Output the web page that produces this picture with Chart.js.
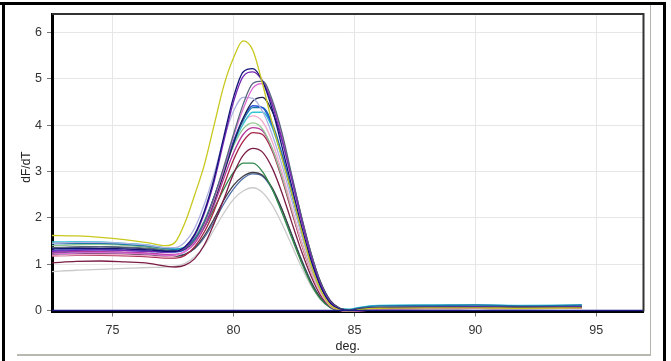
<!DOCTYPE html>
<html>
<head>
<meta charset="utf-8">
<script src="https://cdn.jsdelivr.net/npm/chart.js@4/dist/chart.umd.min.js"></script>
<style>
  html,body{margin:0;padding:0;background:#fff;}
  #wrap{position:relative;width:671px;height:361px;overflow:hidden;background:#fff;}
  #c{position:absolute;left:0;top:0;}
  .fr{position:absolute;}
</style>
</head>
<body>
<div id="wrap">
  <canvas id="c" width="671" height="361"></canvas>
  <div class="fr" style="left:0;top:2px;width:666px;height:3px;background:#000"></div>
  <div class="fr" style="left:2px;top:2px;width:3px;height:359px;background:#000"></div>
  <div class="fr" style="left:663px;top:2px;width:3px;height:359px;background:#000"></div>
  <div class="fr" style="left:650px;top:5px;width:1px;height:350px;background:#b4b4ac"></div>
  <div class="fr" style="left:17px;top:354px;width:634px;height:2px;background:#b8b8b0"></div>
</div>
<script>
// Temperature grid (deg.)
const X = [72.5, 73.5, 74.5, 75.5, 76.5, 77.2, 77.6, 78.0, 78.4, 78.8, 79.2, 79.6, 80.0, 80.4, 80.8, 81.2, 81.6, 82.0, 82.4, 82.8, 83.2, 83.6, 84.0, 84.4, 84.8, 85.2, 86.0, 88.0, 90.0, 92.0, 94.4];

const yellow    = [1.62,1.61,1.58,1.53,1.46,1.40,1.48,1.90,2.50,3.15,4.00,4.85,5.45,5.82,5.62,4.90,4.05,3.30,2.55,1.75,1.00,0.45,0.12,0.01,-0.02,0.02,0.05,0.06,0.06,0.05,0.06];
const navy      = [1.33,1.34,1.34,1.33,1.31,1.28,1.28,1.38,1.65,2.15,2.85,3.75,4.60,5.15,5.22,4.95,4.35,3.55,2.70,1.85,1.10,0.52,0.16,0.03,0.00,0.03,0.06,0.07,0.07,0.07,0.07];
const purple    = [1.28,1.30,1.31,1.30,1.28,1.26,1.27,1.36,1.62,2.10,2.78,3.65,4.50,5.05,5.15,4.95,4.45,3.70,2.85,1.98,1.18,0.56,0.18,0.03,-0.02,0.02,0.06,0.07,0.08,0.07,0.08];
const slate     = [1.35,1.37,1.38,1.37,1.34,1.30,1.29,1.34,1.52,1.90,2.45,3.10,3.80,4.45,4.90,4.95,4.55,3.85,2.95,2.05,1.25,0.60,0.20,0.05,0.01,0.04,0.07,0.08,0.09,0.08,0.09];
const pink      = [1.22,1.24,1.25,1.24,1.22,1.19,1.20,1.28,1.48,1.85,2.40,3.05,3.75,4.35,4.80,4.90,4.50,3.80,2.90,2.00,1.20,0.56,0.16,0.02,-0.04,-0.02,0.04,0.05,0.05,0.05,0.05];
const lavender  = [1.45,1.47,1.47,1.45,1.41,1.36,1.36,1.48,1.78,2.30,2.95,3.70,4.30,4.60,4.58,4.30,3.80,3.15,2.40,1.65,0.98,0.45,0.13,0.02,0.00,0.03,0.05,0.06,0.06,0.06,0.06];
const darkNavy  = [1.36,1.37,1.38,1.36,1.33,1.29,1.28,1.33,1.50,1.85,2.35,2.95,3.60,4.15,4.52,4.60,4.30,3.70,2.90,2.05,1.25,0.62,0.22,0.05,0.01,0.04,0.07,0.07,0.08,0.08,0.08];
const blue      = [1.30,1.31,1.31,1.30,1.28,1.26,1.26,1.32,1.52,1.90,2.45,3.05,3.65,4.15,4.42,4.38,4.00,3.35,2.55,1.75,1.02,0.48,0.15,0.03,0.00,0.04,0.07,0.08,0.08,0.08,0.09];
const steelTeal = [1.44,1.45,1.45,1.43,1.39,1.34,1.32,1.36,1.55,1.92,2.45,3.05,3.65,4.10,4.38,4.38,4.05,3.40,2.60,1.80,1.06,0.50,0.16,0.04,0.02,0.06,0.10,0.11,0.12,0.10,0.12];
const cyan      = [1.48,1.49,1.48,1.45,1.41,1.35,1.33,1.37,1.55,1.90,2.40,3.00,3.58,4.02,4.28,4.28,3.95,3.30,2.52,1.75,1.02,0.48,0.15,0.04,0.03,0.07,0.11,0.12,0.12,0.11,0.12];
const lightPink = [1.18,1.20,1.21,1.20,1.18,1.16,1.18,1.28,1.50,1.88,2.40,3.00,3.60,4.05,4.20,4.08,3.65,3.00,2.25,1.50,0.85,0.38,0.10,0.01,-0.03,0.00,0.04,0.05,0.05,0.05,0.05];
const lightGreen= [1.40,1.42,1.43,1.41,1.38,1.33,1.32,1.38,1.58,1.95,2.45,3.02,3.55,3.92,4.05,3.92,3.50,2.90,2.20,1.50,0.88,0.40,0.12,0.02,0.00,0.03,0.06,0.06,0.07,0.06,0.07];
const magenta   = [1.26,1.27,1.27,1.26,1.24,1.21,1.21,1.27,1.45,1.80,2.28,2.85,3.40,3.80,3.95,3.88,3.50,2.90,2.20,1.50,0.88,0.40,0.12,0.01,-0.03,0.00,0.05,0.06,0.06,0.06,0.06];
const darkRed   = [1.18,1.19,1.19,1.18,1.16,1.13,1.13,1.19,1.38,1.70,2.15,2.70,3.25,3.65,3.84,3.80,3.45,2.85,2.15,1.45,0.85,0.38,0.11,0.01,-0.04,-0.01,0.04,0.05,0.05,0.05,0.05];
const maroon    = [1.03,1.06,1.07,1.05,1.02,0.96,0.94,0.98,1.12,1.42,1.88,2.40,2.95,3.35,3.50,3.42,3.08,2.55,1.92,1.30,0.75,0.33,0.09,0.01,-0.03,0.00,0.04,0.04,0.05,0.04,0.05];
const green     = [1.45,1.46,1.45,1.42,1.37,1.31,1.30,1.34,1.50,1.80,2.20,2.62,2.98,3.18,3.18,3.00,2.62,2.12,1.58,1.05,0.58,0.25,0.07,0.01,0.00,0.03,0.05,0.06,0.06,0.06,0.06];
const darkGray  = [1.22,1.23,1.23,1.22,1.20,1.17,1.17,1.21,1.35,1.62,1.98,2.38,2.70,2.90,2.98,2.92,2.65,2.20,1.65,1.10,0.62,0.27,0.07,0.00,-0.01,0.02,0.04,0.05,0.05,0.05,0.05];
const blueGray  = [1.25,1.26,1.26,1.25,1.23,1.20,1.19,1.22,1.34,1.58,1.92,2.30,2.62,2.85,2.95,2.90,2.62,2.18,1.65,1.12,0.64,0.28,0.08,0.01,0.00,0.03,0.05,0.05,0.06,0.05,0.06];
const lightGray = [0.84,0.87,0.89,0.91,0.93,0.94,0.96,1.02,1.16,1.40,1.75,2.10,2.40,2.58,2.65,2.55,2.28,1.88,1.42,0.95,0.54,0.24,0.07,0.00,-0.01,0.02,0.04,0.04,0.05,0.04,0.05];

// Threshold line at zero across the full range
const BASE_X = [72.5, 97];
const BASE_Y = [0, 0];

const X_TICKS = [75, 80, 85, 90, 95];
const Y_TICKS = [0, 1, 2, 3, 4, 5, 6];
const X_TITLE = 'deg.';
const Y_TITLE = 'dF/dT';

const SERIES = [
  ['yellow', yellow, '#c8c81e'],
  ['navy', navy, '#141478'],
  ['purple', purple, '#7424b4'],
  ['slate', slate, '#56687c'],
  ['pink', pink, '#dc6cd4'],
  ['lavender', lavender, '#aeb0e2'],
  ['darkNavy', darkNavy, '#22224e'],
  ['blue', blue, '#2452d2'],
  ['steelTeal', steelTeal, '#1a78aa'],
  ['cyan', cyan, '#34c4d6'],
  ['lightPink', lightPink, '#f2aacb'],
  ['lightGreen', lightGreen, '#92c892'],
  ['magenta', magenta, '#b4389e'],
  ['darkRed', darkRed, '#a42444'],
  ['maroon', maroon, '#7a1c44'],
  ['green', green, '#2e8a4a'],
  ['darkGray', darkGray, '#3e3e46'],
  ['blueGray', blueGray, '#5070aa'],
  ['lightGray', lightGray, '#cacaca']
];

const datasets = [{
  label: 'baseline',
  data: BASE_X.map((x, i) => ({x, y: BASE_Y[i]})),
  borderColor: '#1a1a8c', borderWidth: 1.5, pointRadius: 0, tension: 0
}].concat(SERIES.map(([name, ys, col]) => ({
  label: name,
  data: X.map((x, i) => ({x, y: ys[i]})),
  borderColor: col,
  borderWidth: 1.3,
  pointRadius: 0,
  cubicInterpolationMode: 'monotone',
  fill: false
})));

const frame = {
  id: 'frame',
  afterDraw(chart) {
    const {ctx, chartArea: a} = chart;
    ctx.save();
    ctx.strokeStyle = '#333';
    ctx.lineWidth = 2;
    ctx.beginPath();
    ctx.moveTo(a.left, a.top);
    ctx.lineTo(a.right, a.top);
    ctx.lineTo(a.right, a.bottom);
    ctx.stroke();
    // y axis title
    ctx.fillStyle = '#222';
    ctx.font = '12px "Liberation Sans", Arial, sans-serif';
    ctx.textAlign = 'center';
    ctx.textBaseline = 'middle';
    ctx.translate(27, 167);
    ctx.rotate(-Math.PI / 2);
    ctx.fillText(Y_TITLE, 0, 0);
    ctx.restore();
  }
};

const tickFont = {family: '"Liberation Sans", Arial, sans-serif', size: 12.5};

new Chart(document.getElementById('c'), {
  type: 'line',
  data: {datasets},
  options: {
    responsive: false,
    animation: false,
    events: [],
    layout: {padding: {left: 0, top: 14, right: 27.5, bottom: 0}},
    plugins: {legend: {display: false}, tooltip: {enabled: false}},
    scales: {
      x: {
        type: 'linear', min: 72.5, max: 96.95,
        afterBuildTicks: s => { s.ticks = X_TICKS.map(v => ({value: v})); },
        afterFit: s => { s.height = 49.5; },
        grid: {color: '#e6e6e6', lineWidth: 1, tickLength: 5, tickColor: '#777'},
        border: {color: '#000', width: 3},
        ticks: {color: '#333', font: tickFont, padding: 7, maxRotation: 0},
        title: {display: true, text: X_TITLE, color: '#222', font: tickFont, padding: {top: 0, bottom: 7}}
      },
      y: {
        min: -0.02, max: 6.4,
        afterBuildTicks: s => { s.ticks = Y_TICKS.map(v => ({value: v})); },
        afterFit: s => { s.width = 52; },
        grid: {color: '#e6e6e6', lineWidth: 1, tickLength: 5, tickColor: '#777'},
        border: {color: '#000', width: 3},
        ticks: {color: '#333', font: tickFont, padding: 5}
      }
    }
  },
  plugins: [frame]
});
</script>
</body>
</html>
